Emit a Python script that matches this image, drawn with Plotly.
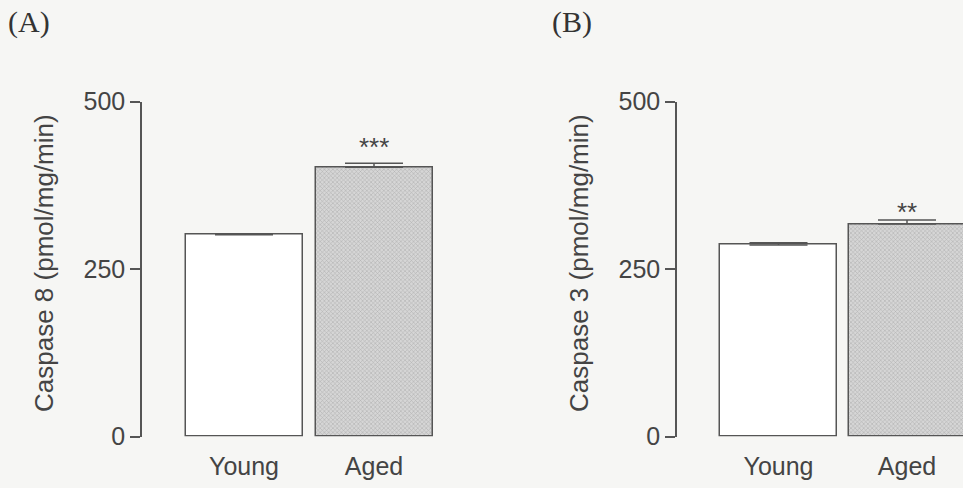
import plotly.graph_objects as go

# Caspase activity, young vs aged (mean +/- SEM)
groups = ["Young", "Aged"]
caspase8_mean = [301, 402]
caspase8_sem = [1, 6]
caspase3_mean = [286, 317]
caspase3_sem = [3, 6]
stars_a = ["", "***"]
stars_b = ["", "**"]
y_ticks = [0, 250, 500]

W, H = 963, 488
GREY = "#555555"
TEXT = "#444444"
BG = "#f6f6f4"
FONT = "Liberation Sans, Arial, sans-serif"

fig = go.Figure()


def px_x(p):
    return p / W


def px_y(p):
    return (H - p) / H


y_dom = [px_y(436.5), px_y(101.5)]

panels = [
    # xaxis, yaxis, means, sems, stars, axis px, young centre px, spacing px, right px,
    # title, title centre px, star offset px
    ("x", "y", caspase8_mean, caspase8_sem, stars_a, 142, 244, 130, 470,
     "Caspase 8 (pmol/mg/min)", 44, [0, 17]),
    ("x2", "y2", caspase3_mean, caspase3_sem, stars_b, 677, 778.5, 128.5, 963,
     "Caspase 3 (pmol/mg/min)", 579, [0, 9]),
]

for xa, ya, means, sems, stars, ax_px, c0, sp, right_px, title, title_x, star_gap in panels:
    xs = list(range(len(groups)))
    fills = ["white", "#d2d2d2"]
    patterns = ["", "x"]
    for i in xs:
        fig.add_trace(go.Bar(
            x=[i], y=[means[i]], xaxis=xa, yaxis=ya,
            width=117 / sp,
            marker=dict(
                color=fills[i],
                line=dict(color=GREY, width=1.5),
                pattern=dict(shape=patterns[i], size=3, solidity=0.35,
                             fgcolor="#8c8c8c", bgcolor="#d6d6d6",
                             fillmode="overlay") if patterns[i] else None,
            ),
            error_y=dict(type="data", array=[sems[i]], arrayminus=[0],
                         symmetric=False, visible=True,
                         color=GREY, thickness=1.5, width=29),
            showlegend=False, hoverinfo="skip",
        ))
        if stars[i]:
            fig.add_annotation(
                x=i, y=means[i] + sems[i], xref=xa, yref=ya,
                text=stars[i], showarrow=False, yanchor="bottom",
                yshift=star_gap[i] - 18,
                font=dict(family=FONT, size=26, color=TEXT),
            )
    lo = (ax_px - c0) / sp
    hi = (right_px - c0) / sp
    axis_key = "xaxis" if xa == "x" else "xaxis2"
    yaxis_key = "yaxis" if ya == "y" else "yaxis2"
    fig.layout[axis_key] = dict(
        domain=[px_x(ax_px), px_x(right_px)], range=[lo, hi],
        anchor=ya, showline=False, showgrid=False, zeroline=False,
        tickmode="array", tickvals=xs, ticktext=groups, ticks="",
        ticklabelstandoff=12, automargin=False,
        tickfont=dict(family=FONT, size=25, color=TEXT),
    )
    fig.layout[yaxis_key] = dict(
        domain=y_dom, range=[0, 500], anchor=xa,
        showline=True, linecolor=GREY, linewidth=1.5,
        showgrid=False, zeroline=False, automargin=False,
        tickmode="array", tickvals=y_ticks, ticks="outside",
        ticklen=10, tickwidth=1.5, tickcolor=GREY,
        tickfont=dict(family=FONT, size=25, color=TEXT),
    )
    fig.add_annotation(
        x=px_x(title_x), y=px_y(263), xref="paper", yref="paper",
        text=title, textangle=-90, showarrow=False,
        xanchor="center", yanchor="middle",
        font=dict(family=FONT, size=26, color=TEXT),
    )

# Panel letters
for label, cx in [("(A)", 29), ("(B)", 572)]:
    fig.add_annotation(
        x=px_x(cx), y=px_y(22), xref="paper", yref="paper",
        text=label, showarrow=False, xanchor="center", yanchor="middle",
        font=dict(family="Liberation Serif, Times New Roman, serif",
                  size=30, color="#333333"),
    )

fig.update_layout(
    width=W, height=H,
    margin=dict(l=0, r=0, t=0, b=0),
    paper_bgcolor=BG, plot_bgcolor=BG,
    bargap=0,
)

fig.write_html("out.html")
